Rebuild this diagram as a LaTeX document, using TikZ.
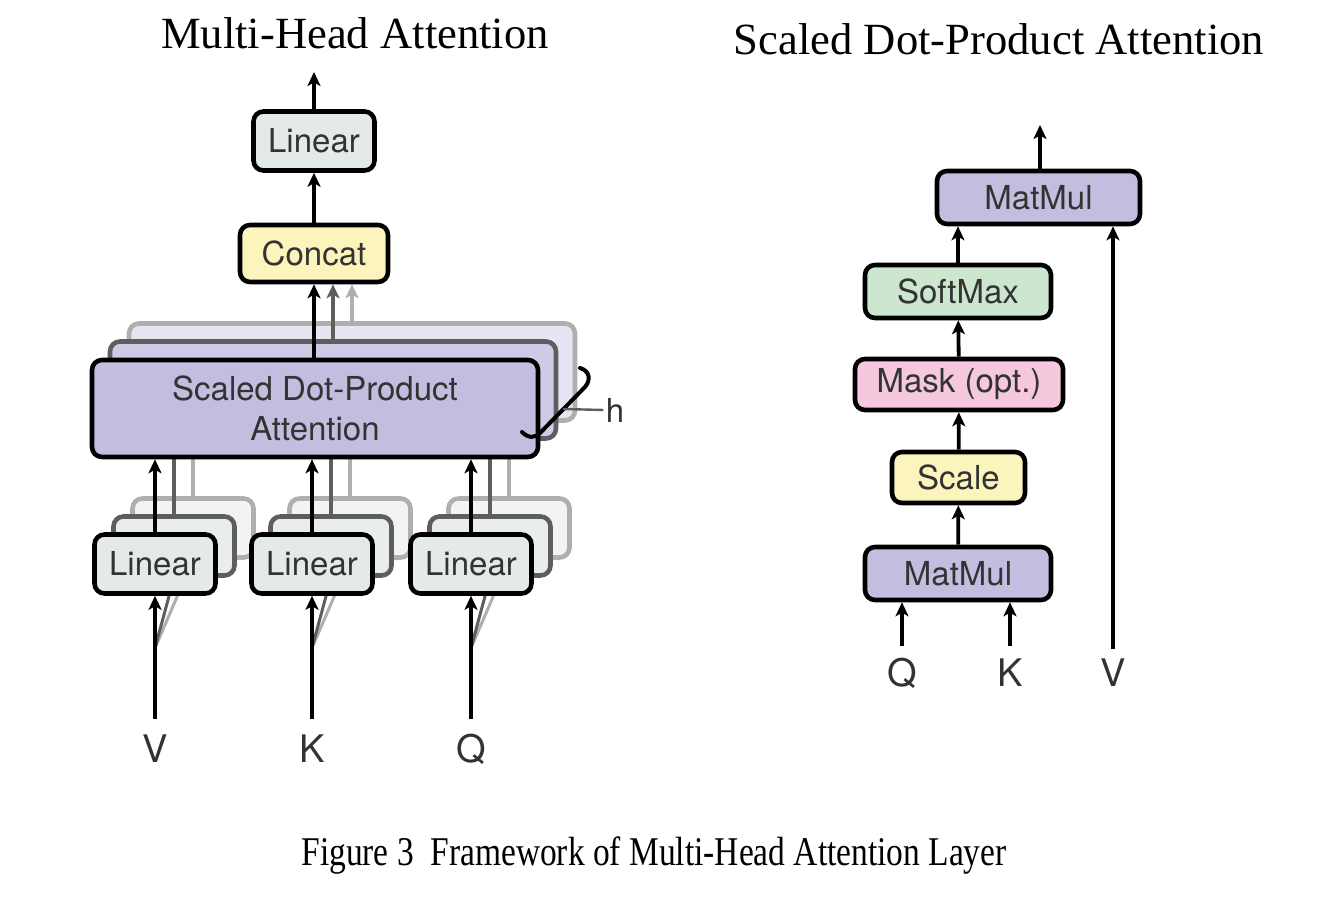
\documentclass[tikz,border=0pt]{standalone}
\usepackage{fontspec}
\setmainfont{Liberation Serif}
\setsansfont{TeX Gyre Heros}
\usetikzlibrary{arrows.meta}

\definecolor{txtgray}{HTML}{333333}
\definecolor{lingray}{HTML}{E4EAE8}
\definecolor{concatyel}{HTML}{FBF4BC}
\definecolor{attnpurple}{HTML}{C4BDE0}
\definecolor{softgreen}{HTML}{CDE6CF}
\definecolor{maskpink}{HTML}{F6C8DE}
\definecolor{midgray}{HTML}{5E5E5E}
\definecolor{lightgray}{HTML}{AFAFAF}

\begin{document}
\begin{tikzpicture}[x=0.5pt,y=-0.5pt,
  box/.style={draw, line width=2.3pt, rounded corners=5pt, inner sep=0pt, align=center,
    text=txtgray, font=\sffamily\fontsize{16.5}{20}\selectfont},
  linbox/.style={box, fill=lingray, minimum width=60.5pt, minimum height=29.5pt},
  ghost/.style={box, draw=midgray, fill=#1},
  faint/.style={box, draw=lightgray, fill=#1},
  arr/.style={-{Stealth[length=7pt,width=6.5pt,inset=1.8pt]}, line width=1.9pt},
  lbl/.style={font=\sffamily\fontsize{19}{22}\selectfont, text=txtgray,
    text height=14pt, text depth=0pt, inner xsep=2pt, inner ysep=8pt},
  ttl/.style={font=\fontsize{22.3}{26}\selectfont, anchor=base}]
\useasboundingbox (0,0) rectangle (1330,898);

% titles
\node[ttl] (titleL) at (355,49) {Multi-Head Attention};
\node[ttl] (titleR) at (999,55) {Scaled Dot-Product Attention};

% multi-head attention
\node[faint=attnpurple!40, minimum width=223pt, minimum height=48.5pt] (sdpaC) at (352,372) {};
\node[ghost=attnpurple!80, minimum width=223pt, minimum height=48.5pt] (sdpaB) at (333,390) {};
\node[box, fill=concatyel, minimum width=74pt, minimum height=28.5pt] (concat) at (314,253.5) {Concat};
\node[linbox] (linTop) at (314,141) {Linear};
\coordinate (outL) at (314,72);
\draw[arr, lightgray] (sdpaC.north -| 352,0) -- ([xshift=19pt]concat.south);
\draw[arr, midgray] (sdpaB.north -| 333,0) -- ([xshift=9.5pt]concat.south);

\foreach \nm/\cx/\lab in {V/155/V, K/312/K, Q/471/Q}{
  \node[faint=lingray!50, minimum width=60.5pt, minimum height=29.5pt] (lin\nm C) at (\cx+38,528) {};
  \node[ghost=lingray!80, minimum width=60.5pt, minimum height=29.5pt] (lin\nm B) at (\cx+19,546) {};
  \draw[line width=1.9pt, lightgray] (lin\nm C.north) -- (lin\nm C.north |- sdpaB.south);
  \draw[line width=1.9pt, midgray] (lin\nm B.north) -- (lin\nm B.north |- sdpaB.south);
  \node[lbl] (in\nm) at (\cx,749) {\lab};
  \coordinate (fork\nm) at (\cx,648);
  \draw[line width=1.5pt, lightgray] (fork\nm) -- (lin\nm C.south);
  \draw[line width=1.5pt, midgray] (fork\nm) -- (lin\nm B.south);
  \node[linbox] (lin\nm) at (\cx,564) {Linear};
  \draw[arr] (in\nm.north) -- (lin\nm.south);
}

\node[box, fill=attnpurple, minimum width=223pt, minimum height=48.5pt] (sdpa) at (315,408.5)
  {Scaled Dot-Product\\Attention};
\foreach \nm in {V,K,Q}
  \draw[arr] (lin\nm.north) -- (lin\nm.north |- sdpa.south);
\draw[arr] (sdpa.north -| concat.south) -- (concat.south);
\draw[arr] (concat) -- (linTop);
\draw[arr] (linTop) -- (outL);

% h copies
\draw[line width=2pt, line cap=round] (580,368) .. controls (590,371) and (591,380) .. (585,387)
  -- (541,432) .. controls (535,439) and (528,438) .. (522,432);
\coordinate (hTip) at (563,409);
\node[font=\sffamily\fontsize{16.5}{20}\selectfont, text=txtgray, inner sep=1pt] (hLab) at (615,410) {h};
\draw[line width=1.2pt, midgray] (hTip) -- (hLab.west);

% scaled dot-product attention
\node[box, fill=attnpurple, minimum width=101.5pt, minimum height=26.5pt] (mmTop) at (1038.5,197.5) {MatMul};
\node[box, fill=softgreen, minimum width=93pt, minimum height=26.5pt] (soft) at (958,291.5) {SoftMax};
\node[box, fill=maskpink, minimum width=104pt, minimum height=25.5pt] (mask) at (959,384.5) {Mask (opt.)};
\node[box, fill=concatyel, minimum width=66.5pt, minimum height=25.5pt] (scale) at (958.5,477.5) {Scale};
\node[box, fill=attnpurple, minimum width=93pt, minimum height=26.5pt] (mmBot) at (958,573.5) {MatMul};
\coordinate (outR) at (1040,125);
\node[lbl, inner ysep=6.5pt] (inQ2) at (902,673) {Q};
\node[lbl, inner ysep=6.5pt] (inK2) at (1010,673) {K};
\node[lbl, inner ysep=5pt] (inV2) at (1113,673) {V};

\draw[arr] (mmTop.north -| outR) -- (outR);
\draw[arr] (soft.north) -- (soft.north |- mmTop.south);
\draw[arr] (mask) -- (soft);
\draw[arr] (scale) -- (mask);
\draw[arr] (mmBot) -- (scale);
\draw[arr] (inQ2.north) -- (inQ2.north |- mmBot.south);
\draw[arr] (inK2.north) -- (inK2.north |- mmBot.south);
\draw[arr] (inV2.north) -- (inV2.north |- mmTop.south);

% caption
\node[anchor=base, font=\fontsize{20.4}{24}\selectfont] (caption) at (654,866)
  {\scalebox{0.82}[1]{Figure 3\ \ Framework of Multi-Head Attention Layer}};
\end{tikzpicture}
\end{document}
